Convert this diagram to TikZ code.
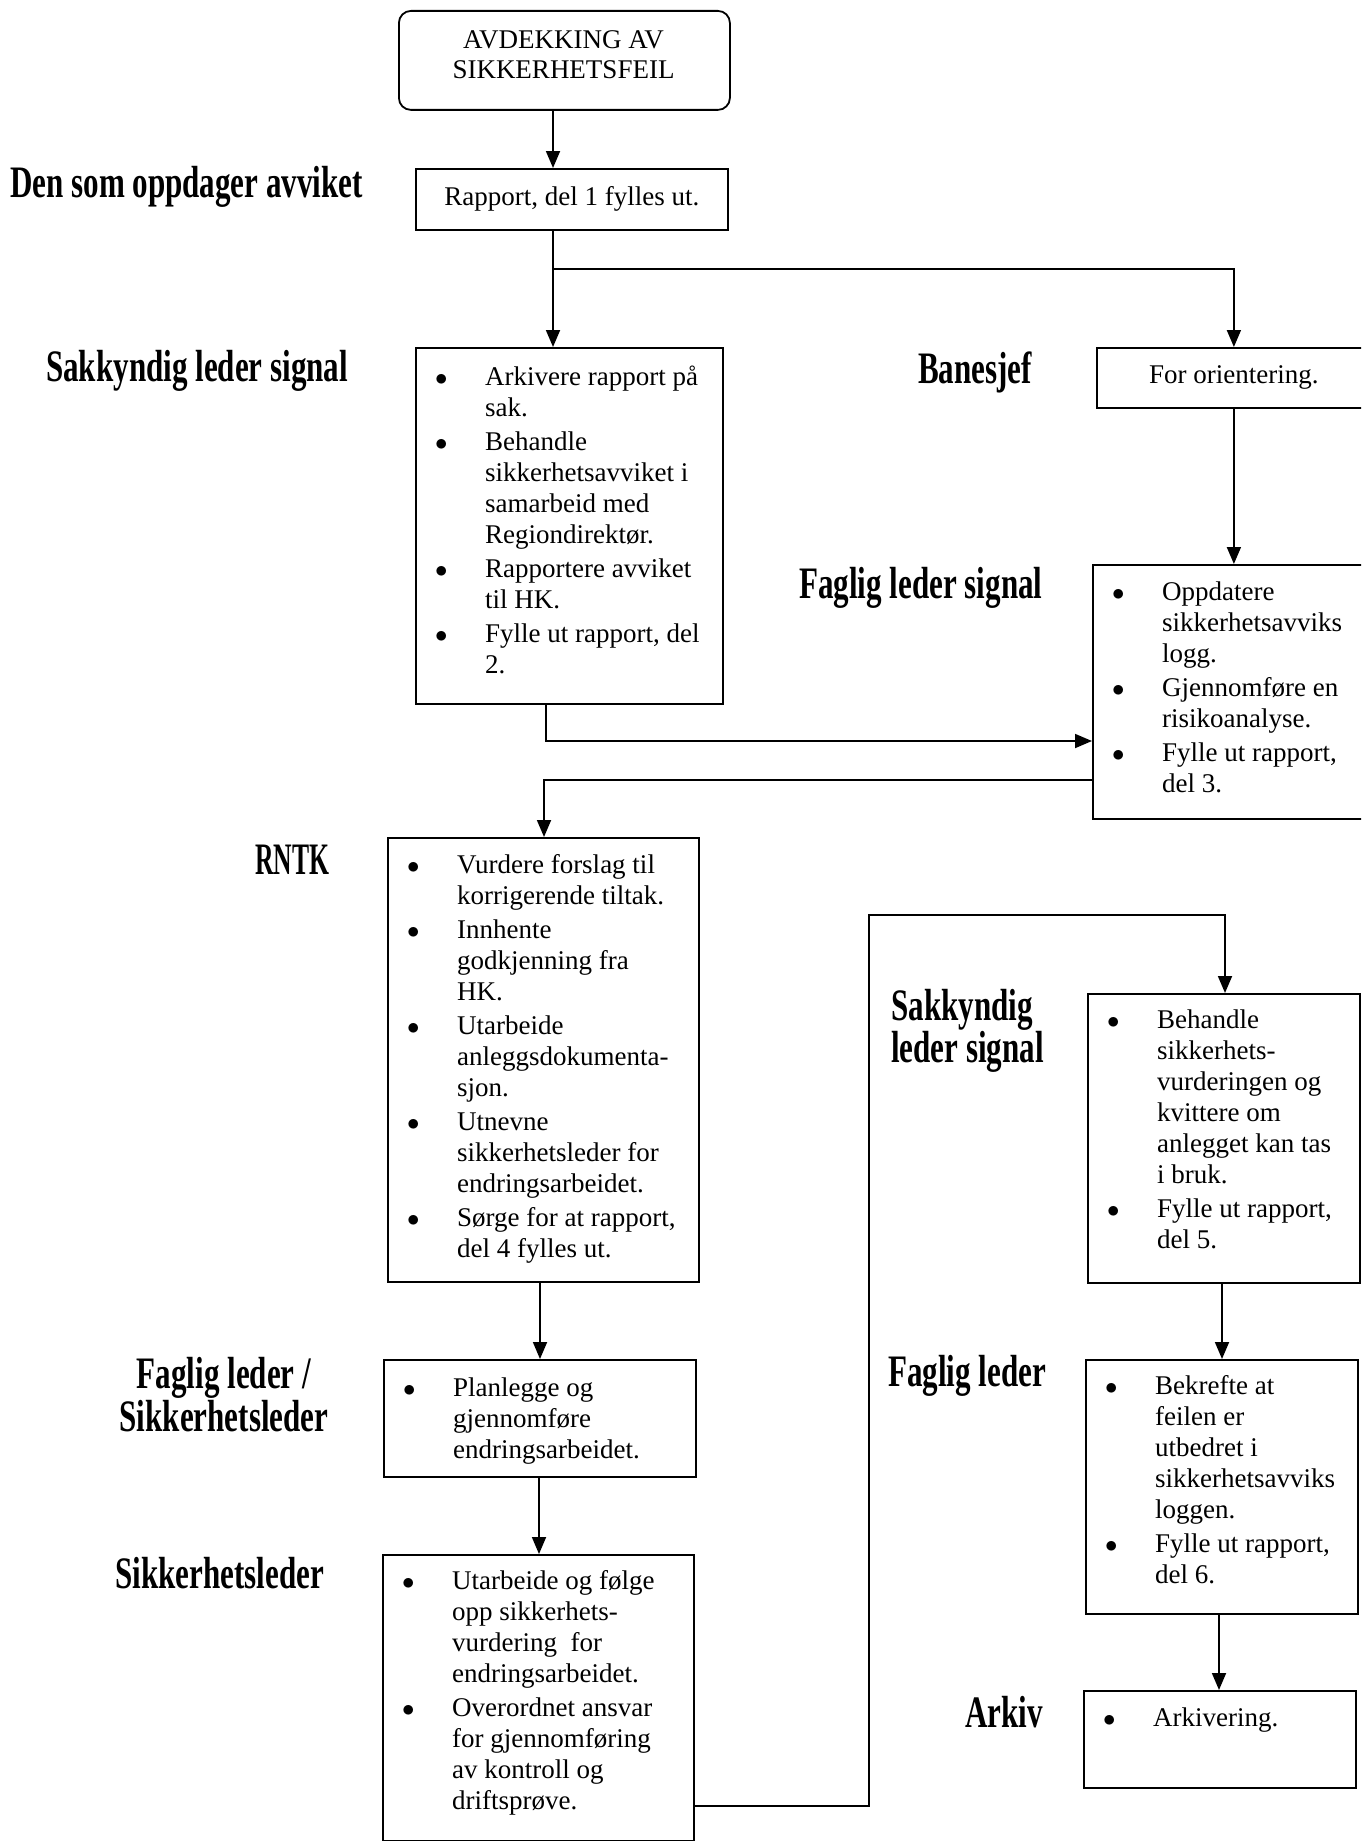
\documentclass[tikz,border=0pt]{standalone}
\usepackage{fontspec}
\setmainfont{Liberation Serif}
\newfontfamily\labfont[FakeStretch=0.69]{Liberation Serif Bold}
\newfontfamily\labfontn[FakeStretch=0.57]{Liberation Serif Bold}
\usetikzlibrary{arrows.meta}
\newlength\tind \setlength\tind{70pt}
\newlength\bind \setlength\bind{20pt}
\newcommand\itm{\par\noindent\hangindent=\tind\hangafter=1\makebox[\tind][l]{\hspace*{\bind}$\bullet$}\ignorespaces}
\newcommand\nitm{\par\vspace{3pt}\itm}
\newcommand\blist[1]{\parbox[t]{420pt}{\fontsize{27}{31}\selectfont #1}}
\begin{document}
\begin{tikzpicture}[x=1pt,y=-1pt,
  bx/.style={draw, line width=1.8pt, inner sep=0pt, anchor=north west},
  arr/.style={line width=1.8pt, -{Triangle[width=14pt,length=17pt]}},
  lab/.style={anchor=base west, inner sep=0pt, font=\labfont\fontsize{45}{50}\selectfont},
  txt/.style={anchor=base west, inner sep=0pt},
  body/.style={font=\fontsize{27}{30}\selectfont}]
\useasboundingbox (0,0) rectangle (1361,1841);
\clip (0,0) rectangle (1361,1841);
\fill[white] (0,0) rectangle (1361,1841);

% boxes
\node[bx, rounded corners=12pt, minimum width=331pt, minimum height=99pt] (top) at (398,10) {};
\node[body, align=center, inner sep=0pt] (topt) at (563.5,55) {AVDEKKING AV\\SIKKERHETSFEIL};
\node[bx, body, minimum width=312pt, minimum height=61pt] (rap) at (415,168) {Rapport, del 1 fylles ut.};
\node[bx, minimum width=307pt, minimum height=356pt] (sls) at (415,347) {};
\node[bx, body, minimum width=274pt, minimum height=60pt] (ban) at (1096,347) {For orientering.};
\node[bx, minimum width=278pt, minimum height=254pt] (fls) at (1092,564) {};
\node[bx, minimum width=311pt, minimum height=444pt] (rntk) at (387,837) {};
\node[bx, minimum width=312pt, minimum height=117pt] (flsl) at (383,1359) {};
\node[bx, minimum width=311pt, minimum height=286pt] (sl) at (382,1554) {};
\node[bx, minimum width=272pt, minimum height=289pt] (sls2) at (1087,993) {};
\node[bx, minimum width=272pt, minimum height=254pt] (fl) at (1085,1359) {};
\node[bx, minimum width=272pt, minimum height=97pt] (ark) at (1083,1690) {};

% box texts
\node[txt] (slst) at (415,385) {\blist{%
\itm Arkivere rapport på\\sak.
\nitm Behandle\\sikkerhetsavviket i\\samarbeid med\\Regiondirektør.
\nitm Rapportere avviket\\til HK.
\nitm Fylle ut rapport, del\\2.}};
\node[txt] (flst) at (1092,600) {\blist{%
\itm Oppdatere\\sikkerhetsavviks\\logg.
\nitm Gjennomføre en\\risikoanalyse.
\nitm Fylle ut rapport,\\del 3.}};
\node[txt] (rntkt) at (387,873) {\blist{%
\itm Vurdere forslag til\\korrigerende tiltak.
\nitm Innhente\\godkjenning fra\\HK.
\nitm Utarbeide\\anleggsdokumenta-\\sjon.
\nitm Utnevne\\sikkerhetsleder for\\endringsarbeidet.
\nitm Sørge for at rapport,\\del 4 fylles ut.}};
\node[txt] (flslt) at (383,1396) {\blist{%
\itm Planlegge og\\gjennomføre\\endringsarbeidet.}};
\node[txt] (slt) at (382,1589) {\blist{%
\itm Utarbeide og følge\\opp sikkerhets-\\vurdering\ \ for\\endringsarbeidet.
\nitm Overordnet ansvar\\for gjennomføring\\av kontroll og\\driftsprøve.}};
\node[txt] (sls2t) at (1087,1028) {\blist{%
\itm Behandle\\sikkerhets-\\vurderingen og\\kvittere om\\anlegget kan tas\\i bruk.
\nitm Fylle ut rapport,\\del 5.}};
\node[txt] (flt) at (1085,1394) {\blist{%
\itm Bekrefte at\\feilen er\\utbedret i\\sikkerhetsavviks\\loggen.
\nitm Fylle ut rapport,\\del 6.}};
\node[txt] (arkt) at (1083,1726) {\blist{%
\itm Arkivering.}};

% role labels
\node[lab] (l1) at (10,197) {Den som oppdager avviket};
\node[lab] (l2) at (46,381) {Sakkyndig leder signal};
\node[lab] (l3) at (918,383) {Banesjef};
\node[lab] (l4) at (799,598) {Faglig leder signal};
\node[lab, font=\labfontn\fontsize{45}{50}\selectfont] (l5) at (255,874) {RNTK};
\node[lab, anchor=base] (l6) at (224,1388) {\parbox[t]{320pt}{\centering\fontsize{45}{43}\selectfont Faglig leder /\\Sikkerhetsleder}};
\node[lab] (l7) at (115,1588) {Sikkerhetsleder};
\node[lab] (l8) at (891,1020) {\parbox[t]{300pt}{\fontsize{45}{38}\selectfont Sakkyndig\\leder signal}};
\node[lab] (l9) at (888,1386) {Faglig leder};
\node[lab] (l10) at (965,1727) {Arkiv};

% connectors
\coordinate (xa) at (553,269);
\draw[arr] (top.south -| xa) -- (rap.north -| xa);
\draw[arr] (rap.south -| xa) -- (sls.north -| xa);
\draw[arr] (xa) -| (ban.north);
\draw[arr] (ban.south) -- (fls.north -| ban.south);
\coordinate (xb) at (546,741);
\draw[arr] (sls.south -| xb) |- (fls.west |- xb);
\coordinate (xc) at (544,780);
\draw[arr] (fls.west |- xc) -| (rntk.north -| xc);
\coordinate (xd) at (540,0);
\draw[arr] (rntk.south -| xd) -- (flsl.north -| xd);
\coordinate (xe) at (539,0);
\draw[arr] (flsl.south -| xe) -- (sl.north -| xe);
\coordinate (xf) at (869,1806);
\coordinate (xg) at (1225,915);
\draw[arr] (sl.east |- xf) -- (xf) |- (xg) -- (sls2.north -| xg);
\coordinate (xh) at (1222,0);
\draw[arr] (sls2.south -| xh) -- (fl.north -| xh);
\coordinate (xi) at (1219,0);
\draw[arr] (fl.south -| xi) -- (ark.north -| xi);
\end{tikzpicture}
\end{document}
